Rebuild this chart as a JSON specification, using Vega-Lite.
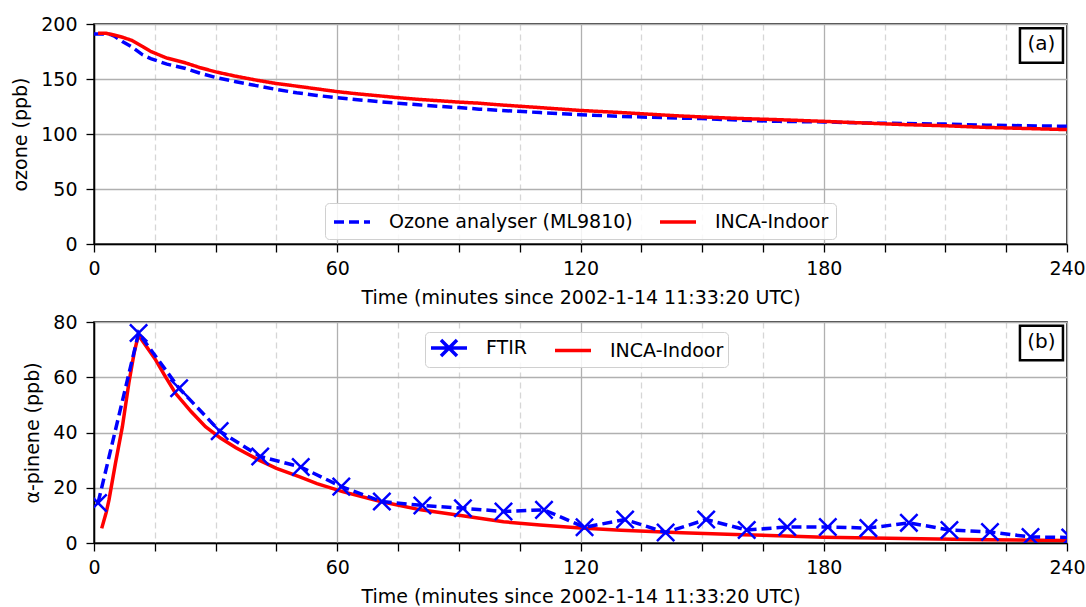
{
  "$schema": "https://vega.github.io/schema/vega-lite/v6.json",
  "background": "white",
  "padding": {"left": 10, "top": 14, "right": 18, "bottom": 0},
  "spacing": 4,
  "resolve": {"scale": {"color": "independent", "strokeDash": "independent"}, "legend": {"color": "independent", "strokeDash": "independent"}},
  "config": {
    "font": "DejaVu Sans",
    "view": {"stroke": "black", "strokeWidth": 1.5},
    "axis": {"domainColor": "black", "domainWidth": 1.5, "tickColor": "black", "tickSize": 8, "tickWidth": 1.3, "labelFont": "DejaVu Sans", "labelFontSize": 19, "labelColor": "black", "titleFont": "DejaVu Sans", "titleFontSize": 19, "titleFontWeight": "normal", "titleColor": "black", "gridColor": "#b0b0b0", "gridWidth": 1.3},
    "axisX": {"labelPadding": 7, "titlePadding": 10},
    "axisY": {"labelPadding": 9, "titlePadding": 10},
    "legend": {"symbolType": "M-1,0H2.6", "symbolSize": 400, "symbolStrokeWidth": 3.5, "labelOffset": 33, "labelLimit": 0, "labelFontSize": 19, "labelFont": "DejaVu Sans", "labelColor": "black", "strokeColor": "#d0d0d0", "fillColor": "rgba(255,255,255,0.85)", "cornerRadius": 4, "padding": 7, "columnPadding": 20}
  },
  "datasets": {
    "ozone": [
      {"t": 0, "v": 191, "series": "Ozone analyser (ML9810)"},
      {"t": 2, "v": 191, "series": "Ozone analyser (ML9810)"},
      {"t": 4, "v": 190.5, "series": "Ozone analyser (ML9810)"},
      {"t": 5, "v": 189, "series": "Ozone analyser (ML9810)"},
      {"t": 7, "v": 184, "series": "Ozone analyser (ML9810)"},
      {"t": 9.4, "v": 179, "series": "Ozone analyser (ML9810)"},
      {"t": 12, "v": 172, "series": "Ozone analyser (ML9810)"},
      {"t": 14, "v": 168.5, "series": "Ozone analyser (ML9810)"},
      {"t": 18, "v": 163.5, "series": "Ozone analyser (ML9810)"},
      {"t": 22.6, "v": 159.5, "series": "Ozone analyser (ML9810)"},
      {"t": 26, "v": 155.5, "series": "Ozone analyser (ML9810)"},
      {"t": 30, "v": 151.4, "series": "Ozone analyser (ML9810)"},
      {"t": 35, "v": 147.5, "series": "Ozone analyser (ML9810)"},
      {"t": 40, "v": 144, "series": "Ozone analyser (ML9810)"},
      {"t": 44.8, "v": 140.6, "series": "Ozone analyser (ML9810)"},
      {"t": 50, "v": 137.5, "series": "Ozone analyser (ML9810)"},
      {"t": 55, "v": 135, "series": "Ozone analyser (ML9810)"},
      {"t": 60, "v": 133, "series": "Ozone analyser (ML9810)"},
      {"t": 65, "v": 131.2, "series": "Ozone analyser (ML9810)"},
      {"t": 70, "v": 129.5, "series": "Ozone analyser (ML9810)"},
      {"t": 75, "v": 128, "series": "Ozone analyser (ML9810)"},
      {"t": 80, "v": 126.5, "series": "Ozone analyser (ML9810)"},
      {"t": 90, "v": 124, "series": "Ozone analyser (ML9810)"},
      {"t": 95, "v": 122.6, "series": "Ozone analyser (ML9810)"},
      {"t": 100, "v": 121.5, "series": "Ozone analyser (ML9810)"},
      {"t": 110, "v": 119.5, "series": "Ozone analyser (ML9810)"},
      {"t": 120, "v": 117.5, "series": "Ozone analyser (ML9810)"},
      {"t": 130, "v": 116, "series": "Ozone analyser (ML9810)"},
      {"t": 144, "v": 114.5, "series": "Ozone analyser (ML9810)"},
      {"t": 150, "v": 114, "series": "Ozone analyser (ML9810)"},
      {"t": 160, "v": 112.5, "series": "Ozone analyser (ML9810)"},
      {"t": 169, "v": 111.5, "series": "Ozone analyser (ML9810)"},
      {"t": 180, "v": 111, "series": "Ozone analyser (ML9810)"},
      {"t": 190, "v": 110, "series": "Ozone analyser (ML9810)"},
      {"t": 200, "v": 109.5, "series": "Ozone analyser (ML9810)"},
      {"t": 210, "v": 109, "series": "Ozone analyser (ML9810)"},
      {"t": 220, "v": 108, "series": "Ozone analyser (ML9810)"},
      {"t": 230, "v": 107.5, "series": "Ozone analyser (ML9810)"},
      {"t": 240, "v": 107, "series": "Ozone analyser (ML9810)"},
      {"t": 1, "v": 191.5, "series": "INCA-Indoor"},
      {"t": 3, "v": 191.5, "series": "INCA-Indoor"},
      {"t": 5, "v": 190, "series": "INCA-Indoor"},
      {"t": 7, "v": 188, "series": "INCA-Indoor"},
      {"t": 9.4, "v": 185, "series": "INCA-Indoor"},
      {"t": 12, "v": 179.5, "series": "INCA-Indoor"},
      {"t": 14, "v": 175, "series": "INCA-Indoor"},
      {"t": 18, "v": 169, "series": "INCA-Indoor"},
      {"t": 22.6, "v": 164.6, "series": "INCA-Indoor"},
      {"t": 26, "v": 160.5, "series": "INCA-Indoor"},
      {"t": 30, "v": 156.5, "series": "INCA-Indoor"},
      {"t": 35, "v": 152.5, "series": "INCA-Indoor"},
      {"t": 40, "v": 149, "series": "INCA-Indoor"},
      {"t": 44.8, "v": 146, "series": "INCA-Indoor"},
      {"t": 50, "v": 143.5, "series": "INCA-Indoor"},
      {"t": 55, "v": 141, "series": "INCA-Indoor"},
      {"t": 60, "v": 138.5, "series": "INCA-Indoor"},
      {"t": 65, "v": 136.5, "series": "INCA-Indoor"},
      {"t": 70, "v": 134.8, "series": "INCA-Indoor"},
      {"t": 75, "v": 133, "series": "INCA-Indoor"},
      {"t": 80, "v": 131.5, "series": "INCA-Indoor"},
      {"t": 90, "v": 129, "series": "INCA-Indoor"},
      {"t": 95, "v": 128, "series": "INCA-Indoor"},
      {"t": 100, "v": 126.5, "series": "INCA-Indoor"},
      {"t": 110, "v": 124, "series": "INCA-Indoor"},
      {"t": 120, "v": 121.4, "series": "INCA-Indoor"},
      {"t": 130, "v": 119.5, "series": "INCA-Indoor"},
      {"t": 144, "v": 116.5, "series": "INCA-Indoor"},
      {"t": 150, "v": 115.5, "series": "INCA-Indoor"},
      {"t": 160, "v": 114, "series": "INCA-Indoor"},
      {"t": 169, "v": 113, "series": "INCA-Indoor"},
      {"t": 180, "v": 111.5, "series": "INCA-Indoor"},
      {"t": 190, "v": 110, "series": "INCA-Indoor"},
      {"t": 200, "v": 108.5, "series": "INCA-Indoor"},
      {"t": 210, "v": 107.5, "series": "INCA-Indoor"},
      {"t": 220, "v": 106, "series": "INCA-Indoor"},
      {"t": 230, "v": 105, "series": "INCA-Indoor"},
      {"t": 240, "v": 104, "series": "INCA-Indoor"}
    ],
    "ftir": [
      {"t": 1, "v": 14.5, "series": "FTIR"},
      {"t": 11, "v": 76, "series": "FTIR"},
      {"t": 21, "v": 56, "series": "FTIR"},
      {"t": 31, "v": 40.5, "series": "FTIR"},
      {"t": 41, "v": 31.3, "series": "FTIR"},
      {"t": 51, "v": 27.5, "series": "FTIR"},
      {"t": 61, "v": 20.4, "series": "FTIR"},
      {"t": 71, "v": 15, "series": "FTIR"},
      {"t": 81, "v": 13.6, "series": "FTIR"},
      {"t": 91, "v": 12.6, "series": "FTIR"},
      {"t": 101, "v": 11.4, "series": "FTIR"},
      {"t": 111, "v": 12, "series": "FTIR"},
      {"t": 121, "v": 5.7, "series": "FTIR"},
      {"t": 131, "v": 8.5, "series": "FTIR"},
      {"t": 141, "v": 3.8, "series": "FTIR"},
      {"t": 151, "v": 8.5, "series": "FTIR"},
      {"t": 161, "v": 4.7, "series": "FTIR"},
      {"t": 171, "v": 5.8, "series": "FTIR"},
      {"t": 181, "v": 5.8, "series": "FTIR"},
      {"t": 191, "v": 5.4, "series": "FTIR"},
      {"t": 201, "v": 7.3, "series": "FTIR"},
      {"t": 211, "v": 4.7, "series": "FTIR"},
      {"t": 221, "v": 4, "series": "FTIR"},
      {"t": 231, "v": 2.2, "series": "FTIR"},
      {"t": 240.8, "v": 2, "series": "FTIR"}
    ],
    "inca": [
      {"t": 1.9, "v": 5.3, "series": "INCA-Indoor"},
      {"t": 3, "v": 11, "series": "INCA-Indoor"},
      {"t": 3.7, "v": 15.6, "series": "INCA-Indoor"},
      {"t": 5.3, "v": 28.9, "series": "INCA-Indoor"},
      {"t": 7, "v": 42.1, "series": "INCA-Indoor"},
      {"t": 8.6, "v": 57.9, "series": "INCA-Indoor"},
      {"t": 9.9, "v": 68.8, "series": "INCA-Indoor"},
      {"t": 10.9, "v": 75, "series": "INCA-Indoor"},
      {"t": 11.4, "v": 74.3, "series": "INCA-Indoor"},
      {"t": 13, "v": 71, "series": "INCA-Indoor"},
      {"t": 15.2, "v": 66.3, "series": "INCA-Indoor"},
      {"t": 17.5, "v": 60.5, "series": "INCA-Indoor"},
      {"t": 20.1, "v": 54.2, "series": "INCA-Indoor"},
      {"t": 24, "v": 47.5, "series": "INCA-Indoor"},
      {"t": 27.5, "v": 42.1, "series": "INCA-Indoor"},
      {"t": 31.2, "v": 38, "series": "INCA-Indoor"},
      {"t": 35, "v": 34.5, "series": "INCA-Indoor"},
      {"t": 40.7, "v": 30, "series": "INCA-Indoor"},
      {"t": 45, "v": 27, "series": "INCA-Indoor"},
      {"t": 50.6, "v": 24, "series": "INCA-Indoor"},
      {"t": 55, "v": 21.5, "series": "INCA-Indoor"},
      {"t": 61.3, "v": 18.6, "series": "INCA-Indoor"},
      {"t": 70.7, "v": 15, "series": "INCA-Indoor"},
      {"t": 80.6, "v": 12, "series": "INCA-Indoor"},
      {"t": 91.3, "v": 9.8, "series": "INCA-Indoor"},
      {"t": 101, "v": 7.7, "series": "INCA-Indoor"},
      {"t": 110, "v": 6.5, "series": "INCA-Indoor"},
      {"t": 120, "v": 5.4, "series": "INCA-Indoor"},
      {"t": 130, "v": 4.6, "series": "INCA-Indoor"},
      {"t": 145, "v": 3.7, "series": "INCA-Indoor"},
      {"t": 160, "v": 3, "series": "INCA-Indoor"},
      {"t": 180, "v": 2.1, "series": "INCA-Indoor"},
      {"t": 200, "v": 1.6, "series": "INCA-Indoor"},
      {"t": 220, "v": 1.2, "series": "INCA-Indoor"},
      {"t": 240, "v": 0.9, "series": "INCA-Indoor"}
    ]
  },
  "vconcat": [
    {
      "width": 973,
      "height": 220,
      "layer": [
        {
          "data": {"name": "ozone"},
          "mark": {"type": "line", "strokeWidth": 3.5, "clip": true},
          "encoding": {
            "x": {"field": "t", "type": "quantitative", "scale": {"domain": [0, 240], "nice": false, "zero": false},
              "axis": {"title": "Time (minutes since 2002-1-14 11:33:20 UTC)", "values": [0, 15, 30, 45, 60, 75, 90, 105, 120, 135, 150, 165, 180, 195, 210, 225, 240], "labelExpr": "datum.value % 60 === 0 ? datum.label : ''", "labelFlush": false, "gridDash": {"condition": {"test": "datum.value % 60 === 0", "value": []}, "value": [6, 4]}, "gridColor": {"condition": {"test": "datum.value % 60 === 0", "value": "#b0b0b0"}, "value": "#d6d6d6"}}},
            "y": {"field": "v", "type": "quantitative", "scale": {"domain": [0, 200], "nice": false},
              "axis": {"title": "ozone (ppb)", "values": [0, 50, 100, 150, 200]}},
            "color": {"field": "series", "type": "nominal",
              "scale": {"domain": ["Ozone analyser (ML9810)", "INCA-Indoor"], "range": ["#0000ff", "#ff0000"]},
              "legend": {"title": null, "orient": "none", "legendX": 231, "legendY": 179, "direction": "horizontal", "columns": 2}},
            "strokeDash": {"field": "series", "type": "nominal",
              "scale": {"domain": ["Ozone analyser (ML9810)", "INCA-Indoor"], "range": [[10, 5], [1, 0]]},
              "legend": {"title": null, "orient": "none", "legendX": 231, "legendY": 179, "direction": "horizontal", "columns": 2}}
          }
        },
        {
          "data": {"values": [{}]},
          "mark": {"type": "point", "shape": "M-1,-0.8H1V0.8H-1Z", "size": 1850, "filled": true, "fill": "white", "stroke": "black", "strokeWidth": 2.5, "opacity": 1},
          "encoding": {"x": {"datum": 233.7, "type": "quantitative"}, "y": {"datum": 180.5, "type": "quantitative"}}
        },
        {
          "data": {"values": [{}]},
          "mark": {"type": "text", "text": "(a)", "fontSize": 20, "font": "DejaVu Sans", "color": "black", "baseline": "middle", "align": "center", "dy": -1},
          "encoding": {"x": {"datum": 233.7, "type": "quantitative"}, "y": {"datum": 180.5, "type": "quantitative"}}
        }
      ]
    },
    {
      "width": 973,
      "height": 221,
      "layer": [
        {
          "data": {"name": "inca"},
          "mark": {"type": "line", "strokeWidth": 3.5, "clip": true},
          "encoding": {
            "x": {"field": "t", "type": "quantitative", "scale": {"domain": [0, 240], "nice": false, "zero": false},
              "axis": {"title": "Time (minutes since 2002-1-14 11:33:20 UTC)", "values": [0, 15, 30, 45, 60, 75, 90, 105, 120, 135, 150, 165, 180, 195, 210, 225, 240], "labelExpr": "datum.value % 60 === 0 ? datum.label : ''", "labelFlush": false, "gridDash": {"condition": {"test": "datum.value % 60 === 0", "value": []}, "value": [6, 4]}, "gridColor": {"condition": {"test": "datum.value % 60 === 0", "value": "#b0b0b0"}, "value": "#d6d6d6"}}},
            "y": {"field": "v", "type": "quantitative", "scale": {"domain": [0, 80], "nice": false},
              "axis": {"title": "α-pinene (ppb)", "values": [0, 20, 40, 60, 80]}},
            "color": {"field": "series", "type": "nominal",
              "scale": {"domain": ["FTIR", "INCA-Indoor"], "range": ["#0000ff", "#ff0000"]},
              "legend": {"title": null, "orient": "none", "legendX": 331, "legendY": 10, "direction": "horizontal", "columns": 2, "padding": 4,
                "encode": {"symbols": {"update": {"shape": {"signal": "datum.value === 'FTIR' ? 'M-1,0H2.6M0,-0.8L1.6,0.8M0,0.8L1.6,-0.8' : 'M-1,0H2.6'"}}}}}}
          }
        },
        {
          "data": {"name": "ftir"},
          "mark": {"type": "line", "strokeWidth": 3.5, "strokeDash": [10, 5], "clip": true},
          "encoding": {
            "x": {"field": "t", "type": "quantitative"},
            "y": {"field": "v", "type": "quantitative"},
            "color": {"field": "series", "type": "nominal"}
          }
        },
        {
          "data": {"name": "ftir"},
          "mark": {"type": "point", "shape": "M-1,-1L1,1M-1,1L1,-1", "size": 300, "filled": false, "strokeWidth": 2.5, "opacity": 1, "clip": true},
          "encoding": {
            "x": {"field": "t", "type": "quantitative"},
            "y": {"field": "v", "type": "quantitative"},
            "color": {"field": "series", "type": "nominal"}
          }
        },
        {
          "data": {"values": [{}]},
          "mark": {"type": "point", "shape": "M-1,-0.8H1V0.8H-1Z", "size": 1850, "filled": true, "fill": "white", "stroke": "black", "strokeWidth": 2.5, "opacity": 1},
          "encoding": {"x": {"datum": 233.7, "type": "quantitative"}, "y": {"datum": 72.4, "type": "quantitative"}}
        },
        {
          "data": {"values": [{}]},
          "mark": {"type": "text", "text": "(b)", "fontSize": 20, "font": "DejaVu Sans", "color": "black", "baseline": "middle", "align": "center", "dy": -1},
          "encoding": {"x": {"datum": 233.7, "type": "quantitative"}, "y": {"datum": 72.4, "type": "quantitative"}}
        }
      ]
    }
  ]
}
